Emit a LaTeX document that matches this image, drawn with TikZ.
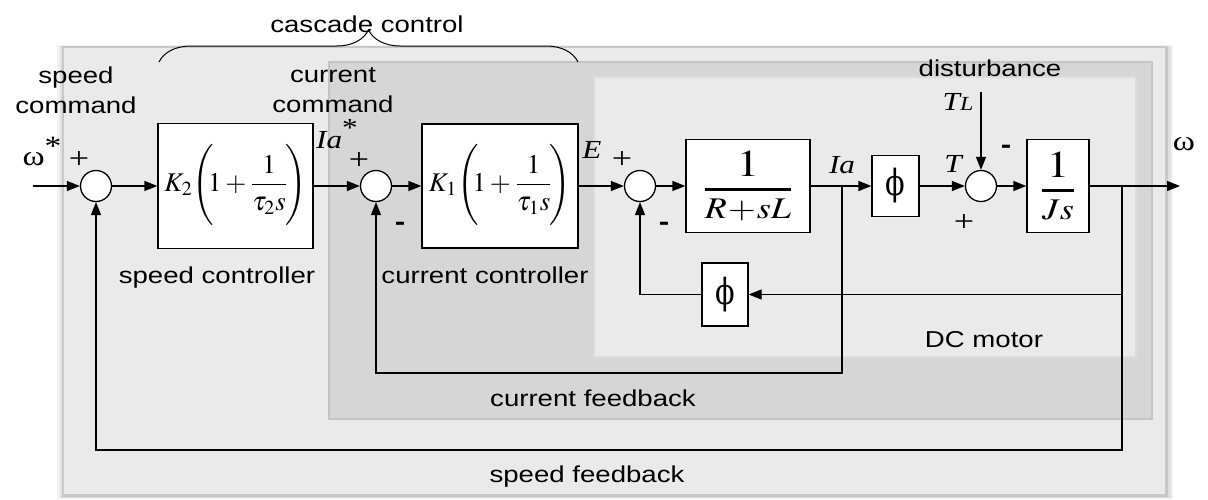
\documentclass[tikz,border=0pt]{standalone}
\usepackage{mathptmx}
\usepackage{fontspec}
\setmainfont{Liberation Serif}[FakeStretch=1.2]
\newfontfamily\sansfnt{Liberation Sans}[FakeStretch=1.2]
\newfontfamily\phifnt{DejaVu Serif}[FakeStretch=0.8]
\usepackage{graphicx}
\usetikzlibrary{arrows.meta,decorations.pathreplacing}
\definecolor{outerbg}{RGB}{234,234,234}
\definecolor{outerln}{RGB}{200,200,200}
\definecolor{midbg}{RGB}{214,214,214}
\definecolor{midln}{RGB}{196,196,196}
\definecolor{innbg}{RGB}{234,234,234}
\definecolor{innln}{RGB}{220,220,220}
\newcommand\wx[1]{\scalebox{1.2}[1]{#1}}

\begin{document}
\begin{tikzpicture}[x=0.5pt, y=-0.5pt, line width=0.65pt,
  blk/.style={draw, fill=white, inner sep=0pt},
  sumc/.style={circle, draw, fill=white, minimum size=15.5pt, inner sep=0pt},
  arr/.style={-{Triangle[length=6.5pt,width=5pt]}},
  lbl/.style={font=\sansfnt\fontsize{11.5}{15}\selectfont, inner sep=0pt, anchor=base},
  sig/.style={font=\fontsize{13}{15}\selectfont\itshape, inner sep=0pt, anchor=base},
  sgn/.style={font=\fontsize{15}{15}\selectfont, inner sep=0pt},
  mns/.style={font=\sansfnt\bfseries\fontsize{13}{15}\selectfont, inner sep=0pt}]
  \useasboundingbox (0,0) rectangle (1208,499);
  % shaded regions
  \fill[black, opacity=0.05] (57,45) rectangle (1173,499);
  \fill[black, opacity=0.08] (59.5,46) rectangle (1170.5,498);
  \fill[black, opacity=0.12] (61.5,46.5) rectangle (1168,497);
  \filldraw[fill=outerbg, draw=outerln] (63,47) rectangle (1166,495);
  \filldraw[fill=midbg, draw=midln] (329,62) rectangle (1152,419);
  \filldraw[fill=innbg, draw=innln] (594,77) rectangle (1136,357);
  % blocks
  \node[blk, minimum width=77.5pt, minimum height=62.5pt, font=\fontsize{13.5}{16}\selectfont] (pi2) at (235.5,186)
    {$\vcenter{\hbox{$\displaystyle K_2\!\left(\vrule height 23pt depth 18pt width 0pt\relax\mkern-4mu 1+\frac{1}{\tau_2 s}\mkern-2mu\right)$}}$};
  \node[blk, minimum width=78pt, minimum height=62pt, font=\fontsize{13.5}{16}\selectfont] (pi1) at (500,186)
    {$\vcenter{\hbox{$\displaystyle K_1\!\left(\vrule height 23pt depth 18pt width 0pt\relax\mkern-4mu 1+\frac{1}{\tau_1 s}\mkern-2mu\right)$}}$};
  \node[blk, minimum width=62pt, minimum height=46.5pt, font=\fontsize{15}{18}\selectfont] (plant) at (748,186)
    {\wx{$\vcenter{\hbox{$\displaystyle{\mbox{\fontsize{19}{19}\selectfont$1$}\above1.4pt R\mkern-2mu+\mkern-2mu sL}$}}$}};
  \node[blk, minimum width=23.5pt, minimum height=30.5pt, font=\phifnt\fontsize{18}{18}\selectfont] (flux) at (895.5,186) {ϕ};
  \node[blk, minimum width=31pt, minimum height=46.5pt, font=\fontsize{15}{18}\selectfont] (mech) at (1058,186)
    {\wx{$\vcenter{\hbox{$\displaystyle{\mbox{\fontsize{19}{19}\selectfont$1$}\above1.4pt Js}$}}$}};
  \node[blk, minimum width=23pt, minimum height=31.5pt, font=\phifnt\fontsize{18}{18}\selectfont] (fluxfb) at (725,294.5) {ϕ};
  \node[sumc] (s1) at (96,186) {};
  \node[sumc] (s2) at (376,186) {};
  \node[sumc] (s3) at (640,186) {};
  \node[sumc] (s4) at (981,186) {};
  \coordinate (win) at (33,186);
  \coordinate (wout) at (1180,186);
  \coordinate (tl) at (981,92);
  \coordinate (ia) at (842,186);
  \coordinate (wb) at (1122,186);
  % signal path
  \draw[arr] (win) -- (s1);
  \draw[arr] (s1) -- (pi2);
  \draw[arr] (pi2) -- (s2);
  \draw[arr] (s2) -- (pi1);
  \draw[arr] (pi1) -- (s3);
  \draw[arr] (s3) -- (plant);
  \draw[arr] (plant) -- (flux);
  \draw[arr] (flux) -- (s4);
  \draw[arr] (s4) -- (mech);
  \draw[arr] (mech) -- (wout);
  \draw[arr] (tl) -- (s4);
  % feedback paths
  \draw[arr] (wb) |- (fluxfb);
  \draw[arr] (fluxfb) -| (s3);
  \draw[arr] (ia) -- (ia |- 0,373) -| (s2);
  \draw[arr] (wb) -- (wb |- 0,450) -| (s1);
  % brace
  \draw[line width=0.5pt, decorate, decoration={brace, amplitude=16pt}] (159,62) -- (578,62);
  % labels
  \node[lbl] (casc) at (367,32) {cascade control};
  \node[lbl, anchor=center, align=center] (spcmd) at (76,90) {speed\\command};
  \node[lbl, anchor=center, align=center] (cucmd) at (333,90) {current\\command};
  \node[lbl] (dist) at (990,76) {disturbance};
  \node[lbl] (spctl) at (217,283) {speed controller};
  \node[lbl] (cuctl) at (485,283) {current controller};
  \node[lbl] (dcm) at (984,347) {DC motor};
  \node[lbl] (cufb) at (593,406) {current feedback};
  \node[lbl] (spfb) at (587,482) {speed feedback};
  \node[sig, font=\fontsize{14}{15}\selectfont] (wref) at (42,165) {ω\raisebox{5pt}{*}};
  \node[sig] (iaref) at (337,148) {Ia\upshape\raisebox{6pt}{*}};
  \node[sig] (emf) at (592,158) {E};
  \node[sig] (iam) at (842,173) {Ia};
  \node[sig] (torq) at (953,172) {T};
  \node[sig] (tload) at (958,110) {T{\fontsize{10}{12}\selectfont L}};
  \node[sig, font=\fontsize{14}{15}\selectfont] (wm) at (1184,150) {ω};
  \node[sgn] (p1) at (79,160) {+};
  \node[sgn] (p2) at (359,161) {+};
  \node[mns] (m2) at (400,226) {-};
  \node[sgn] (p3) at (622,160) {+};
  \node[mns] (m3) at (664,226) {-};
  \node[mns] (m4) at (1006,149) {-};
  \node[sgn] (p4) at (964,223) {+};
\end{tikzpicture}
\end{document}
